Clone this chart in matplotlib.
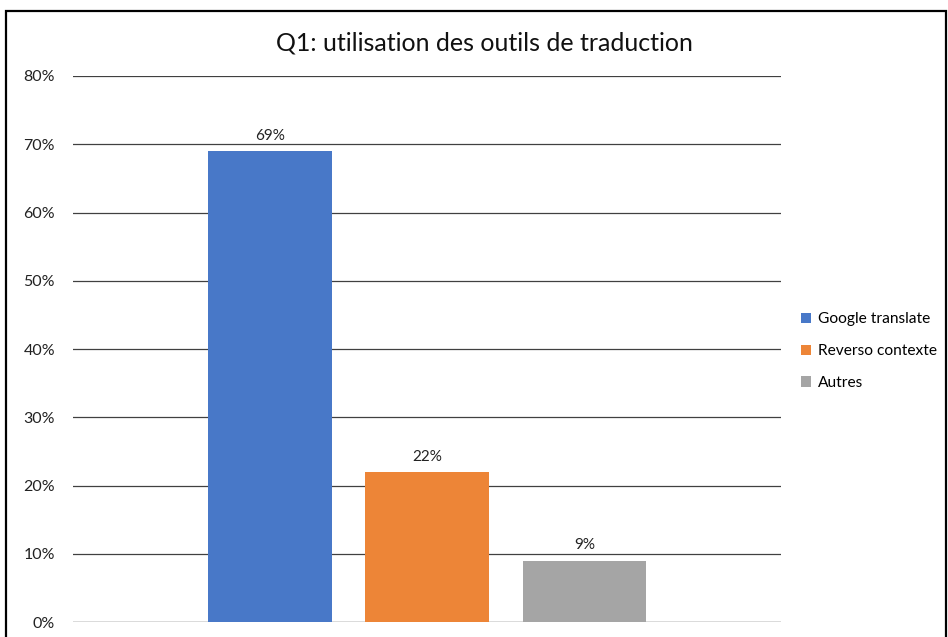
import matplotlib
matplotlib.use("Agg")
import matplotlib.pyplot as plt
from matplotlib.patches import Rectangle
from matplotlib.ticker import FuncFormatter

plt.rcParams['font.family'] = ['Lato', 'DejaVu Sans']

# données
categories = ["Google translate", "Reverso contexte", "Autres"]
values = [69, 22, 9]
colors = ["#4878c8", "#ed8537", "#a5a5a5"]
yticks = [0, 10, 20, 30, 40, 50, 60, 70, 80]

fig = plt.figure(figsize=(9.48, 6.37), dpi=100)
ax = fig.add_axes([0.077, 0.0235, 0.747, 0.8572])

# cadre du graphique
fig.patches.append(Rectangle((6 / 948, -0.05), 940 / 948, 1.05 - 11 / 637,
                             transform=fig.transFigure, fill=False,
                             edgecolor="black", linewidth=1.6))

x = range(len(values))
bars = ax.bar(x, values, width=0.787, color=colors, label=categories, zorder=3)
for b, v in zip(bars, values):
    ax.text(b.get_x() + b.get_width() / 2, v + 1.2, f"{v}%",
            ha="center", va="bottom", fontsize=11, color="#222222")

ax.set_xlim(-1.25, 3.25)
ax.set_ylim(0, 80)
ax.set_yticks(yticks)
ax.yaxis.set_major_formatter(FuncFormatter(lambda v, p: f"{v:.0f}%"))
ax.set_xticks([])
ax.tick_params(axis="y", length=0, labelsize=11.5, pad=13, labelcolor="#222222")
ax.grid(axis="y", color="#404040", linewidth=0.9, zorder=0)
for s in ax.spines.values():
    s.set_visible(False)
ax.axhline(0, color="#d9d9d9", linewidth=1.2, zorder=2)

fig.text(0.511, 0.933, "Q1: utilisation des outils de traduction",
         ha="center", va="center", fontsize=18, color="#111111")

leg = ax.legend(loc="center left", bbox_to_anchor=(1.0, 0.496), frameon=False,
                fontsize=11.2, handlelength=0.65, handleheight=0.65,
                handletextpad=0.45, labelspacing=1.15, borderaxespad=0.85)

fig.savefig("out.png", dpi=100)
